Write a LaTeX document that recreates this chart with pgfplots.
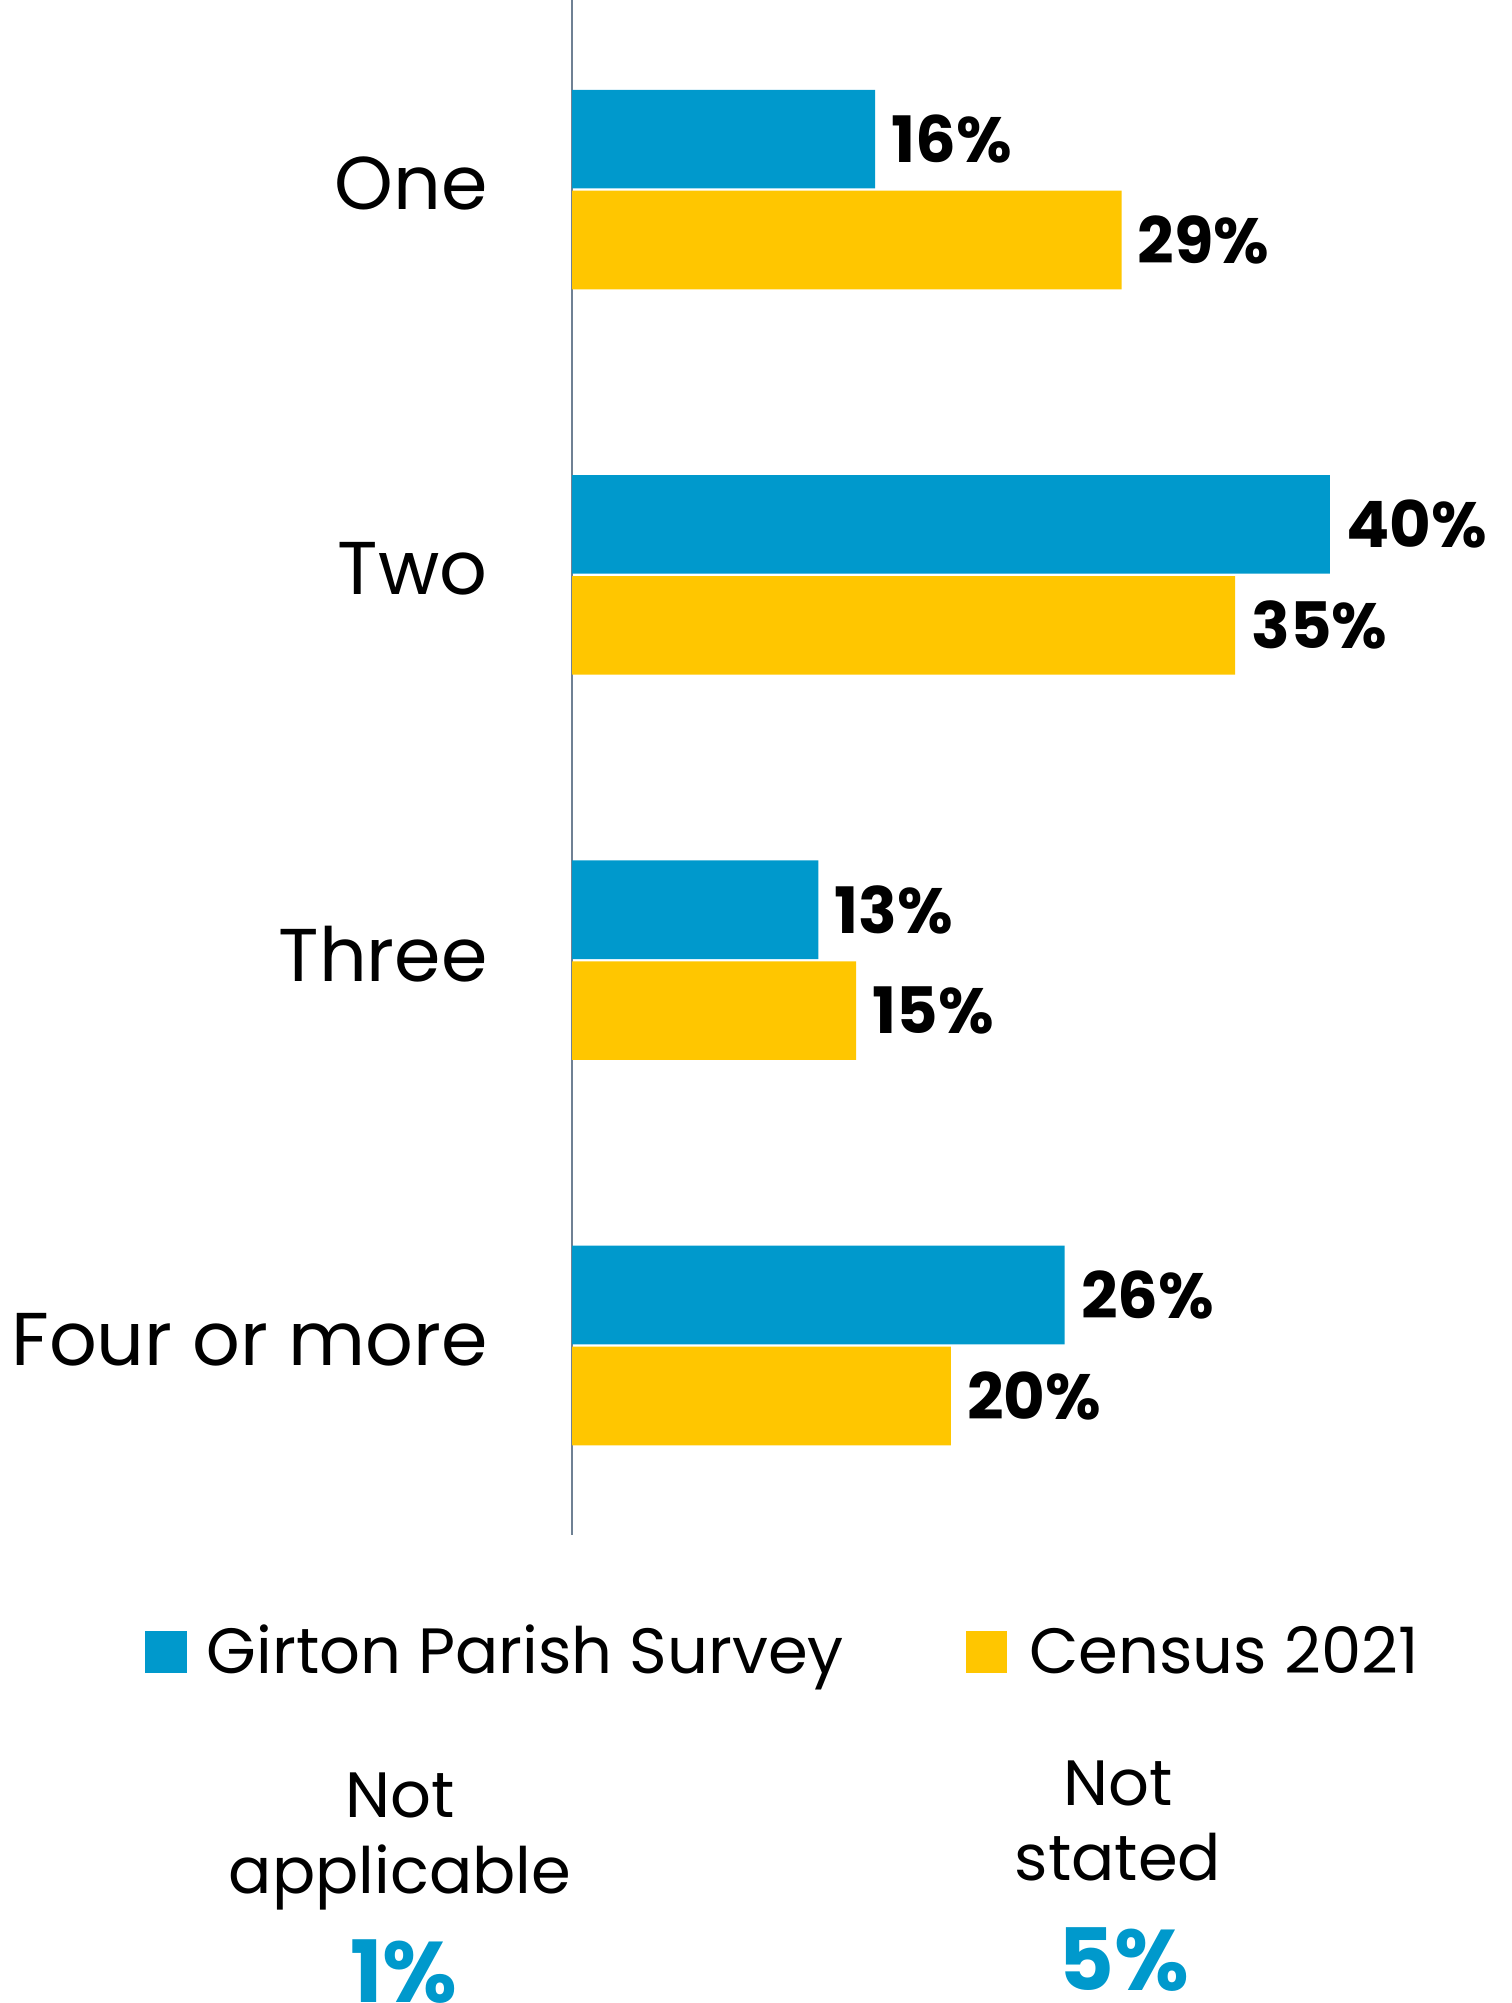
\documentclass[border=0pt]{standalone}
\usepackage{fontspec}
\setmainfont{Poppins}
\usepackage{pgfplots}
\pgfplotsset{compat=1.18}

\definecolor{survey}{HTML}{0099CC}
\definecolor{census}{HTML}{FFC600}
\definecolor{axisgrey}{HTML}{6F8194}

\begin{document}
\begin{tikzpicture}
% page frame in reference pixels (1 px = 0.25pt, y down)
\useasboundingbox (0pt,0pt) rectangle (377.75pt,-500.75pt);

\begin{axis}[
    at={(143pt,-383.75pt)}, anchor=south west,
    scale only axis,
    width=189.5pt, height=383.75pt,
    xbar,
    xmin=0, xmax=40,
    ymin=-0.492, ymax=3.492,
    y dir=reverse,
    bar width=0.256,
    axis x line=none,
    axis y line=left,
    y axis line style={-, draw=axisgrey, line width=0.5pt},
    xtick=\empty,
    ytick={0,1,2,3},
    yticklabels={One,Two,Three,Four or more},
    major tick length=0pt,
    ytick style={draw=none},
    yticklabel style={font=\fontsize{18.7pt}{22pt}\selectfont, inner sep=0pt,
        anchor=east, yshift=1.5pt},
    yticklabel shift=20.9pt,
    clip=false,
    /pgf/number format/assume math mode=true,
    nodes near coords={\pgfmathprintnumber{\pgfplotspointmeta}\%},
    nodes near coords style={font=\bfseries\fontsize{16pt}{19pt}\selectfont,
        anchor=west, inner sep=0pt, xshift=3.9pt, text=black},
]
% Girton Parish Survey
\addplot[fill=survey, draw=none, bar shift=-0.131]
    coordinates {(16,0) (40,1) (13,2) (26,3)};
% Census 2021
\addplot[fill=census, draw=none, bar shift=0.131]
    coordinates {(29,0) (35,1) (15,2) (20,3)};
\end{axis}

\begin{scope}[x=0.25pt,y=-0.25pt]
% legend
\fill[survey] (144.5,1631) rectangle (186.7,1673);
\node[anchor=base west, inner sep=0pt, font=\fontsize{16pt}{19pt}\selectfont]
    at (206,1673) {Girton Parish Survey};
\fill[census] (966,1631) rectangle (1007,1673);
\node[anchor=base west, inner sep=0pt, font=\fontsize{16pt}{19pt}\selectfont]
    at (1028.5,1673) {Census 2021};

% footnotes
\node[anchor=base, inner sep=0pt, font=\fontsize{16pt}{19pt}\selectfont] at (400,1817) {Not};
\node[anchor=base, inner sep=0pt, font=\fontsize{16pt}{19pt}\selectfont] at (400,1893) {applicable};
\node[anchor=base, inner sep=0pt, text=survey, font=\bfseries\fontsize{21.5pt}{26pt}\selectfont] at (404,2002) {1\%};

\node[anchor=base, inner sep=0pt, font=\fontsize{16pt}{19pt}\selectfont] at (1118,1805) {Not};
\node[anchor=base, inner sep=0pt, font=\fontsize{16pt}{19pt}\selectfont] at (1118,1880) {stated};
\node[anchor=base, inner sep=0pt, text=survey, font=\bfseries\fontsize{21.5pt}{26pt}\selectfont] at (1124,1990) {5\%};
\end{scope}
\end{tikzpicture}
\end{document}
